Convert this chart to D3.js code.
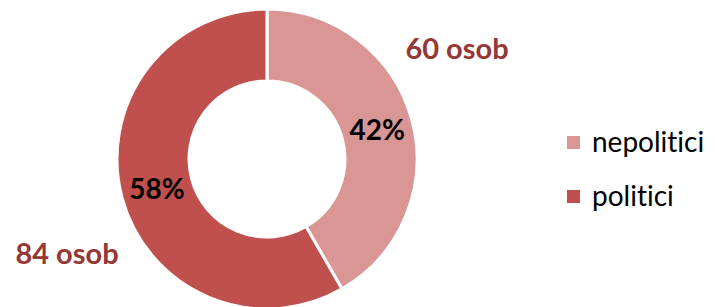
<!DOCTYPE html>
<html>
<head>
<meta charset="utf-8">
<script src="https://cdn.jsdelivr.net/npm/d3@7"></script>
<style>
  html, body { margin: 0; padding: 0; background: #fff; }
  svg { display: block; font-family: Lato, "Open Sans", sans-serif; font-variant-ligatures: none; }
</style>
</head>
<body>
<svg id="chart" width="715" height="307"></svg>
<script>
// categories and values (people)
const categories = ["nepolitici", "politici"];
const counts = [60, 84];
const colors = ["#D99694", "#C0504D"];
const countLabels = ["60 osob", "84 osob"];
// where the outer count labels sit relative to the chart centre
const countLabelOffsets = [[190, -110], [-200, 95]];

(function () {
  const svg = d3.select("#chart");
  const cx = 267, cy = 159;
  const outerR = 150, innerR = 78;
  const total = d3.sum(counts);

  const pie = d3.pie().sort(null).value(d => d)(counts);
  const arc = d3.arc().innerRadius(innerR).outerRadius(outerR);

  const g = svg.append("g").attr("transform", `translate(${cx},${cy})`);

  g.selectAll("path.slice")
    .data(pie)
    .join("path")
    .attr("class", "slice")
    .attr("d", arc)
    .attr("fill", (d, i) => colors[i])
    .attr("stroke", "#fff")
    .attr("stroke-width", 3)
    .attr("stroke-linejoin", "miter");

  // percent labels at centroid
  g.selectAll("text.pct")
    .data(pie)
    .join("text")
    .attr("class", "pct")
    .attr("transform", d => `translate(${arc.centroid(d)})`)
    .attr("text-anchor", "middle")
    .attr("dy", "0.36em")
    .attr("font-size", 28)
    .attr("font-weight", 700)
    .attr("fill", "#000")
    .text(d => Math.round(d.data / total * 100) + "%");

  // count labels outside
  g.selectAll("text.count")
    .data(pie)
    .join("text")
    .attr("class", "count")
    .attr("x", (d, i) => countLabelOffsets[i][0])
    .attr("y", (d, i) => countLabelOffsets[i][1])
    .attr("text-anchor", "middle")
    .attr("dy", "0.36em")
    .attr("font-size", 29)
    .attr("font-weight", 700)
    .attr("fill", "#953735")
    .text((d, i) => countLabels[i]);

  // legend
  const legend = svg.append("g").attr("transform", "translate(567,136)");
  const item = legend.selectAll("g")
    .data(categories)
    .join("g")
    .attr("transform", (d, i) => `translate(0,${i * 54})`);
  item.append("rect")
    .attr("width", 13)
    .attr("height", 13)
    .attr("fill", (d, i) => colors[i]);
  item.append("text")
    .attr("x", 25)
    .attr("y", 16)
    .attr("font-size", 28)
    .attr("fill", "#000")
    .text(d => d);
})();
</script>
</body>
</html>
